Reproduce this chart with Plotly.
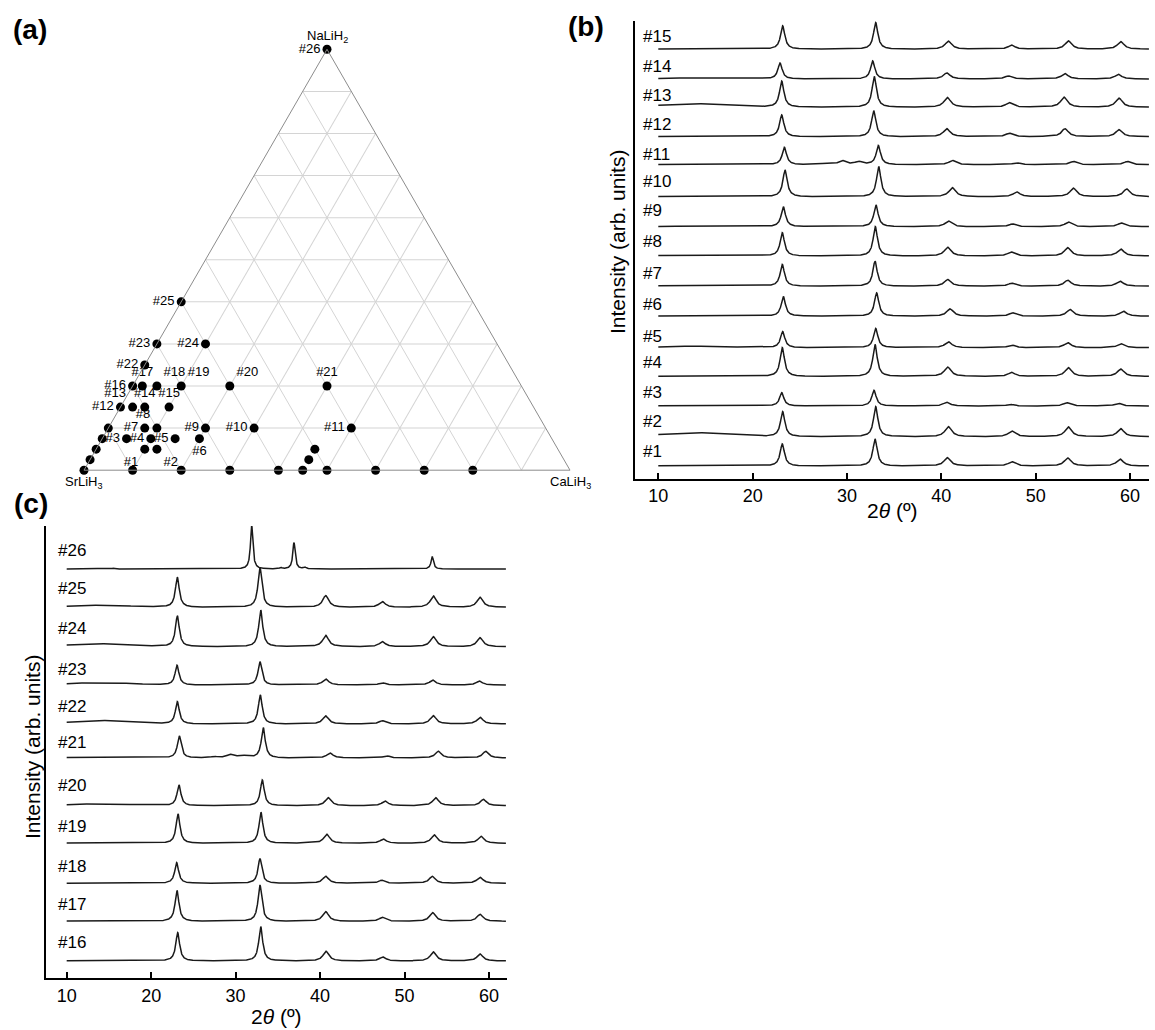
import numpy as np
import plotly.graph_objects as go

W, H = 1155, 1030
FONT = "Liberation Sans, Arial, Helvetica, sans-serif"
LINE = "#1a1a1a"

# ---------------- (a) compositions on the NaLiH2-SrLiH3-CaLiH3 triangle ----------------
point_labels = ["#26", "#25", "#23", "#24", "#22",
                "#16", "#17", "#18", "#19", "#20", "#21",
                "#12", "#13", "#14", "#15",
                "", "#7", "#8", "#9", "#10", "#11",
                "", "#3", "#4", "#5", "#6",
                "", "#1", "#2", "",
                "", "",
                "", "", "", "", "", "", "", "", "", ""]
frac_nalih2 = [1.0, 0.4, 0.3, 0.3, 0.25,
               0.2, 0.2, 0.2, 0.2, 0.2, 0.2,
               0.15, 0.15, 0.15, 0.15,
               0.1, 0.1, 0.1, 0.1, 0.1, 0.1,
               0.075, 0.075, 0.075, 0.075, 0.075,
               0.05, 0.05, 0.05, 0.05,
               0.025, 0.025,
               0, 0, 0, 0, 0, 0, 0, 0, 0, 0]
frac_srlih3 = [0.0, 0.6, 0.7, 0.6, 0.75,
               0.8, 0.78, 0.75, 0.7, 0.6, 0.4,
               0.85, 0.825, 0.8, 0.75,
               0.9, 0.825, 0.8, 0.7, 0.6, 0.4,
               0.925, 0.875, 0.825, 0.775, 0.725,
               0.95, 0.85, 0.825, 0.5,
               0.975, 0.525,
               1.0, 0.9, 0.8, 0.7, 0.6, 0.55, 0.5, 0.4, 0.3, 0.2]
frac_calih3 = [0.0, 0.0, 0.0, 0.1, 0.0,
               0.0, 0.02, 0.05, 0.1, 0.2, 0.4,
               0.0, 0.025, 0.05, 0.1,
               0.0, 0.075, 0.1, 0.2, 0.3, 0.5,
               0.0, 0.05, 0.1, 0.15, 0.2,
               0.0, 0.1, 0.125, 0.45,
               0.0, 0.45,
               0.0, 0.1, 0.2, 0.3, 0.4, 0.45, 0.5, 0.6, 0.7, 0.8]
label_positions = ["middle left", "middle left", "middle left", "middle left", "middle left",
                   "middle left", "top center", "top right", "top right", "top right", "top center",
                   "middle left", "top left", "top center", "top center",
                   "middle left", "middle left", "top left", "middle left", "middle left", "middle left",
                   "middle left", "middle left", "middle left", "middle left", "bottom center",
                   "middle left", "bottom left", "bottom right", "middle left",
                   "middle left", "middle left",
                   "middle left", "middle left", "middle left", "middle left", "middle left",
                   "middle left", "middle left", "middle left", "middle left", "middle left"]

# ---------------- (b) XRD patterns #1-#15 ----------------
b_names = ["#1", "#2", "#3", "#4", "#5", "#6", "#7", "#8",
           "#9", "#10", "#11", "#12", "#13", "#14", "#15"]
b_offsets = [12.7, 42.0, 72.7, 102.3, 131.0, 162.5, 192.5, 222.7,
             252.0, 282.0, 314.0, 342.0, 371.5, 399.7, 429.5]
b_label_levels = [27.7, 57.0, 86.0, 116.0, 142.7, 174.7, 205.4, 237.0,
                  268.0, 297.0, 324.7, 354.4, 383.0, 412.0, 442.7]
b_peak_pos = [
    [23.14, 32.97, 40.63, 47.45, 53.39, 58.93],
    [23.18, 33.04, 40.74, 47.45, 53.46, 59.01],
    [23.08, 32.86, 40.57, 47.28, 53.28, 58.75],
    [23.14, 32.97, 40.67, 47.45, 53.46, 59.01],
    [23.18, 33.04, 40.74, 47.45, 53.39, 59.01],
    [23.25, 33.14, 40.92, 47.56, 53.64, 59.29],
    [23.14, 32.97, 40.67, 47.45, 53.39, 58.93],
    [23.14, 33.00, 40.67, 47.38, 53.39, 59.01],
    [23.25, 33.07, 40.74, 47.52, 53.46, 59.04],
    [23.43, 33.36, 41.16, 47.98, 53.99, 59.64],
    [23.36, 33.32, 41.16, 47.98, 53.99, 59.71],
    [23.08, 32.83, 40.57, 47.20, 53.10, 58.83],
    [23.08, 32.89, 40.63, 47.20, 53.00, 58.83],
    [22.90, 32.72, 40.57, 47.10, 53.10, 58.75],
    [23.18, 33.04, 40.74, 47.45, 53.46, 59.01],
]
b_peak_height = [
    [22.0, 27.0, 8.3, 4.3, 8.0, 7.0],
    [25.0, 30.0, 10.0, 5.7, 9.7, 8.0],
    [13.3, 15.7, 3.7, 1.7, 3.3, 2.7],
    [28.7, 32.0, 9.3, 4.0, 8.7, 7.3],
    [16.0, 19.3, 6.0, 2.7, 5.0, 4.0],
    [19.7, 23.3, 7.3, 3.3, 6.7, 5.0],
    [21.7, 25.0, 6.7, 3.0, 6.0, 5.0],
    [23.3, 29.3, 8.7, 4.0, 8.3, 7.0],
    [20.0, 21.7, 5.7, 2.7, 4.7, 3.7],
    [26.7, 30.0, 9.0, 4.7, 8.5, 7.7],
    [17.3, 19.0, 4.3, 2.0, 3.3, 3.3],
    [21.7, 26.0, 8.0, 3.5, 8.0, 7.0],
    [26.0, 30.7, 9.7, 4.5, 10.0, 9.0],
    [16.0, 18.0, 6.0, 3.0, 5.3, 4.7],
    [23.3, 26.6, 8.0, 4.0, 8.3, 7.5],
]
b_hump = [0.5, 4.0, 0.3, 0.3, 1.5, 0.3, 1.0, 1.0, 0.5, 0.5, 0.3, 0.3, 3.5, 1.0, 0.5]
# weak secondary reflections seen in #11
b11_extra_pos = [27.42, 29.47, 31.20]
b11_extra_height = [0.8, 4.0, 3.0]

# ---------------- (c) XRD patterns #16-#26 ----------------
c_names = ["#16", "#17", "#18", "#19", "#20", "#21", "#22", "#23", "#24", "#25", "#26"]
c_offsets = [17.3, 57.0, 95.0, 135.0, 172.6, 220.3, 254.3, 293.3, 331.6, 371.0, 409.3]
c_label_levels = [35.6, 74.3, 112.3, 151.6, 193.3, 235.6, 271.6, 309.0, 350.0, 390.0, 428.3]
c_peak_pos = [
    [23.14, 32.97, 40.70, 47.41, 53.40, 58.93],
    [23.06, 32.88, 40.66, 47.36, 53.33, 58.93],
    [23.02, 32.88, 40.66, 47.29, 53.28, 58.93],
    [23.18, 33.00, 40.78, 47.48, 53.52, 59.05],
    [23.29, 33.16, 40.97, 47.68, 53.68, 59.33],
    [23.33, 33.27, 41.17, 47.88, 53.99, 59.61],
    [23.10, 32.92, 40.66, 47.36, 53.40, 58.93],
    [23.06, 32.88, 40.66, 47.36, 53.33, 58.85],
    [23.10, 32.97, 40.66, 47.36, 53.40, 58.93],
    [23.10, 32.88, 40.66, 47.36, 53.40, 58.93],
    [15.52, 31.90, 35.37, 36.91, 38.21, 44.33, 53.28],
]
c_peak_height = [
    [28.3, 34.3, 9.7, 4.0, 9.0, 7.0],
    [30.7, 36.3, 9.7, 4.0, 8.7, 7.0],
    [20.7, 24.7, 7.0, 3.0, 7.0, 6.0],
    [29.3, 31.0, 9.0, 4.3, 8.3, 7.0],
    [20.7, 25.7, 8.0, 4.7, 8.0, 6.3],
    [22.0, 30.3, 5.0, 2.3, 6.7, 6.7],
    [22.3, 29.0, 8.0, 3.3, 8.3, 6.7],
    [19.7, 23.3, 6.0, 2.3, 5.0, 4.0],
    [30.7, 36.7, 11.3, 5.0, 10.0, 9.0],
    [30.0, 40.0, 11.7, 5.7, 11.3, 10.0],
    [0.8, 44.0, 1.2, 26.3, 1.5, 0.7, 12.5],
]
c_hump = [0.3, 0.3, 0.3, 0.5, 2.0, 1.0, 3.5, 2.5, 3.0, 2.0, 0.0]
# weak secondary reflections seen in #21
c21_extra_pos = [27.47, 29.33, 30.51, 31.10]
c21_extra_height = [1.3, 3.3, 1.5, 1.5]

TICKS_2THETA = [10, 20, 30, 40, 50, 60]


def px(x):
    return x / W


def py(y):
    return 1 - y / H


two_theta = np.arange(10.0, 62.0001, 0.02)


def pattern(pos, height, fwhm_main, fwhm_minor, hump, extra_pos=(), extra_h=()):
    """Sum of Lorentzian reflections plus a weak broad background hump."""
    y = hump * np.exp(-0.5 * ((two_theta - 14.0) / 3.5) ** 2)
    for i, (p, h) in enumerate(zip(pos, height)):
        w = fwhm_main if i < 2 else fwhm_minor
        y = y + h / (1 + ((two_theta - p) / (w / 2)) ** 2)
    for p, h in zip(extra_pos, extra_h):
        y = y + h / (1 + ((two_theta - p) / 0.45) ** 2)
    return y


fig = go.Figure()

# ternary diagram: labelled compositions and unlabelled ones
labelled = [i for i, t in enumerate(point_labels) if t]
unlabelled = [i for i, t in enumerate(point_labels) if not t]
fig.add_trace(go.Scatterternary(
    a=[frac_nalih2[i] for i in labelled], b=[frac_srlih3[i] for i in labelled],
    c=[frac_calih3[i] for i in labelled],
    mode="markers+text", text=[point_labels[i] for i in labelled],
    textposition=[label_positions[i] for i in labelled],
    textfont=dict(family=FONT, size=13, color="black"),
    marker=dict(size=9, color="black"),
    cliponaxis=False, showlegend=False, hoverinfo="skip",
))
fig.add_trace(go.Scatterternary(
    a=[frac_nalih2[i] for i in unlabelled], b=[frac_srlih3[i] for i in unlabelled],
    c=[frac_calih3[i] for i in unlabelled],
    mode="markers", marker=dict(size=9, color="black"),
    cliponaxis=False, showlegend=False, hoverinfo="skip",
))

# panel (b)
for i, name in enumerate(b_names):
    extra_p = b11_extra_pos if name == "#11" else ()
    extra_h = b11_extra_height if name == "#11" else ()
    y = b_offsets[i] + pattern(b_peak_pos[i], b_peak_height[i], 0.55, 0.85, b_hump[i], extra_p, extra_h)
    fig.add_trace(go.Scatter(x=two_theta, y=y, mode="lines", line=dict(color=LINE, width=1.5),
                             xaxis="x", yaxis="y", showlegend=False, hoverinfo="skip"))
    fig.add_annotation(x=8.15, y=b_label_levels[i], xref="x", yref="y", text=name,
                       showarrow=False, xanchor="left", yanchor="middle",
                       font=dict(family=FONT, size=17, color="black"))

# panel (c)
for i, name in enumerate(c_names):
    if name == "#26":
        y = c_offsets[i] + pattern(c_peak_pos[i], c_peak_height[i], 0.34, 0.34, c_hump[i])
    else:
        extra_p = c21_extra_pos if name == "#21" else ()
        extra_h = c21_extra_height if name == "#21" else ()
        y = c_offsets[i] + pattern(c_peak_pos[i], c_peak_height[i], 0.55, 0.85, c_hump[i], extra_p, extra_h)
    fig.add_trace(go.Scatter(x=two_theta, y=y, mode="lines", line=dict(color=LINE, width=1.5),
                             xaxis="x2", yaxis="y2", showlegend=False, hoverinfo="skip"))
    fig.add_annotation(x=8.75, y=c_label_levels[i], xref="x2", yref="y2", text=name,
                       showarrow=False, xanchor="left", yanchor="middle",
                       font=dict(family=FONT, size=17, color="black"))

xaxis_common = dict(
    showline=True, linewidth=2, linecolor="black", showgrid=False, zeroline=False,
    ticks="inside", ticklen=6, tickwidth=1.5, tickcolor="black",
    tickvals=TICKS_2THETA, tickfont=dict(family=FONT, size=18, color="black"),
)
yaxis_common = dict(
    showline=True, linewidth=2, linecolor="black", showgrid=False, zeroline=False,
    showticklabels=False, ticks="",
)

grid = dict(showgrid=True, gridcolor="#d4d4d4", gridwidth=1, dtick=0.1, tick0=0,
            showticklabels=False, ticks="", linecolor="#8c8c8c", linewidth=1,
            title=dict(text=""), min=0)

fig.update_layout(
    width=W, height=H, margin=dict(l=0, r=0, t=0, b=0),
    paper_bgcolor="white", plot_bgcolor="white",
    font=dict(family=FONT, color="black"),
    ternary=dict(
        domain=dict(x=[px(84), px(570)], y=[py(470.2), py(49.3)]),
        sum=1, bgcolor="white",
        aaxis=grid, baxis=grid, caxis=grid,
    ),
    xaxis=dict(domain=[px(635), px(1149)], range=[7.53, 62.01], anchor="y", **xaxis_common),
    yaxis=dict(domain=[py(478.7), py(20.7)], range=[0, 458], anchor="x", **yaxis_common),
    xaxis2=dict(domain=[px(46), px(507)], range=[7.55, 62.13], anchor="y2", **xaxis_common),
    yaxis2=dict(domain=[py(978.3), py(526)], range=[0, 452.3], anchor="x2", **yaxis_common),
)

# vertex labels of the triangle
for text, x, y in [("NaLiH<sub>2</sub>", 327, 36), ("SrLiH<sub>3</sub>", 84, 482),
                   ("CaLiH<sub>3</sub>", 570, 482)]:
    fig.add_annotation(x=px(x), y=py(y), xref="paper", yref="paper", text=text,
                       showarrow=False, xanchor="center", yanchor="middle",
                       font=dict(family=FONT, size=13, color="black"))

# panel letters
for text, x, y in [("(a)", 30, 30), ("(b)", 586, 26), ("(c)", 31, 503)]:
    fig.add_annotation(x=px(x), y=py(y), xref="paper", yref="paper", text="<b>%s</b>" % text,
                       showarrow=False, xanchor="center", yanchor="middle",
                       font=dict(family=FONT, size=28, color="black"))

# axis titles
for text, x, y, ang in [("2<i>θ</i> (º)", 892, 510, 0), ("2<i>θ</i> (º)", 276, 1016, 0),
                        ("Intensity (arb. units)", 618, 242, -90),
                        ("Intensity (arb. units)", 32, 747, -90)]:
    fig.add_annotation(x=px(x), y=py(y), xref="paper", yref="paper", text=text,
                       showarrow=False, xanchor="center", yanchor="middle", textangle=ang,
                       font=dict(family=FONT, size=21, color="black"))

fig.write_html("out.html")
